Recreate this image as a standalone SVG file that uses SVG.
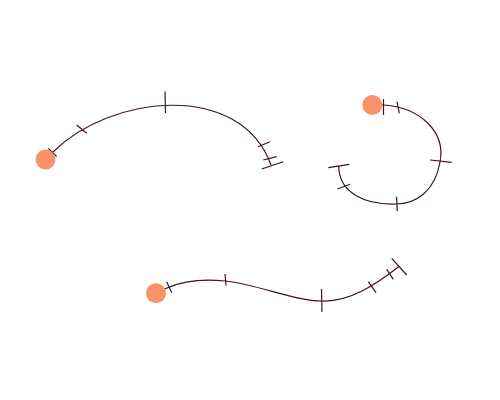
<svg xmlns="http://www.w3.org/2000/svg" width="500" height="400" viewBox="0 0 500 400">
<style>
.c{fill:none;stroke:#3d1228;stroke-width:1.2}
.t{stroke:#3d1228;stroke-width:1.2;fill:none}
.d{fill:#fa9169;stroke:none}
</style>
<rect width="500" height="400" fill="#fff"/>
<g id="connectors">
<path class="c" d="M45,160 L53,152 C110,95 240,80 271,165"/>
<path class="c" d="M372,105 L383,105 C420,107 446,132 440,162 C435,192 415,204 396,204 C365,205 339,193 338.7,166"/>
<path class="c" d="M156,293 L167,288 C185,280 205,279 225,281 C260,285 295,301 322,301 C350,302 375,285 399,266.5"/>
</g>
<g id="ticks1">
<line class="t" x1="48.3" y1="148.3" x2="56.7" y2="156.7"/>
<line class="t" x1="76.7" y1="125" x2="86.7" y2="133.3"/>
<line class="t" x1="165" y1="91.5" x2="165.5" y2="113"/>
<line class="t" x1="258" y1="146.7" x2="270" y2="141.7"/>
<line class="t" x1="263.3" y1="160" x2="276.7" y2="156.7"/>
<line class="t" x1="261.7" y1="169" x2="283.3" y2="161.7"/>
</g>
<g id="ticks2">
<line class="t" x1="383.5" y1="99" x2="383.5" y2="115"/>
<line class="t" x1="397" y1="101.7" x2="399.3" y2="113.3"/>
<line class="t" x1="430" y1="160" x2="451.7" y2="162.3"/>
<line class="t" x1="396.5" y1="196.7" x2="397.3" y2="211"/>
<line class="t" x1="337.3" y1="189" x2="350" y2="184.3"/>
<line class="t" x1="328.3" y1="167.7" x2="349.3" y2="164.3"/>
</g>
<g id="ticks3">
<line class="t" x1="166.7" y1="281.7" x2="171.7" y2="292.7"/>
<line class="t" x1="225" y1="274" x2="226" y2="285.5"/>
<line class="t" x1="321.5" y1="289" x2="322" y2="311.7"/>
<line class="t" x1="368.3" y1="281.7" x2="376" y2="292.7"/>
<line class="t" x1="386.7" y1="269.3" x2="393.3" y2="279.3"/>
<line class="t" x1="391.7" y1="258.3" x2="406.7" y2="275"/>
</g>
<g id="node1"><circle class="d" cx="45.5" cy="159.5" r="10"/></g>
<g id="node2"><circle class="d" cx="372.3" cy="105" r="10"/></g>
<g id="node3"><circle class="d" cx="156" cy="293.3" r="10"/></g>
</svg>
